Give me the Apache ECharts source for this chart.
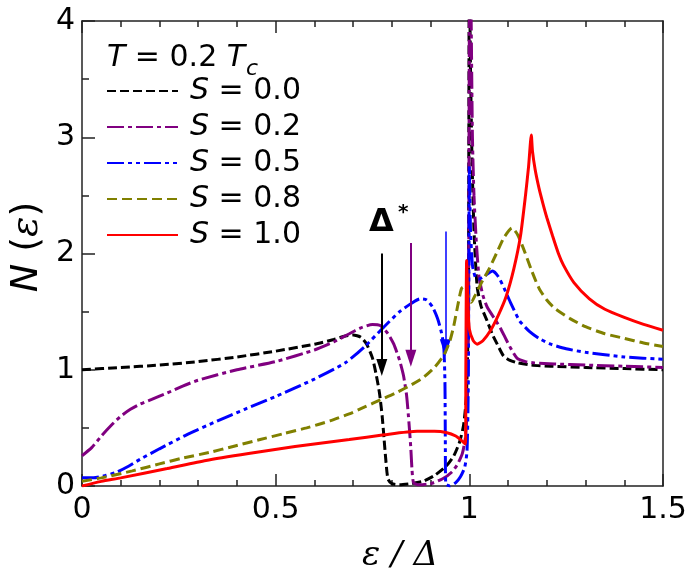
<!DOCTYPE html>
<html>
<head>
<meta charset="utf-8">
<script src="https://cdn.jsdelivr.net/npm/echarts@6/dist/echarts.min.js"></script>
<style>
html,body{margin:0;padding:0;background:#fff;}
#chart{width:691px;height:577px;}
</style>
</head>
<body>
<div id="chart"></div>
<script>
// ---- data ----
var seriesNames = ['S = 0.0', 'S = 0.2', 'S = 0.5', 'S = 0.8', 'S = 1.0'];

var curveS00 = [[0,1.00],[0.1,1.02],[0.2,1.04],[0.3,1.07],[0.4,1.11],[0.5,1.16],[0.6,1.22],[0.65,1.26],[0.68,1.29],[0.7,1.30],[0.72,1.28],[0.735,1.22],[0.75,1.10],[0.76,0.95],[0.768,0.80],[0.775,0.60],[0.78,0.40],[0.785,0.20],[0.79,0.06],[0.8,0.02],[0.82,0.01],[0.85,0.02],[0.88,0.04],[0.91,0.09],[0.94,0.17],[0.96,0.26],[0.975,0.38],[0.985,0.52],[0.992,0.75],[0.996,1.2],[0.998,2.0],[1.0,4.5],[1.003,3.6],[1.007,2.8],[1.012,2.2],[1.02,1.72],[1.03,1.55],[1.046,1.42],[1.06,1.30],[1.072,1.22],[1.088,1.12],[1.105,1.08],[1.124,1.06],[1.16,1.04],[1.21,1.03],[1.3,1.02],[1.4,1.01],[1.5,1.00]];

var curveS02 = [[0,0.26],[0.025,0.33],[0.05,0.43],[0.075,0.52],[0.1,0.6],[0.125,0.66],[0.15,0.705],[0.18,0.745],[0.22,0.8],[0.26,0.86],[0.3,0.91],[0.4,1.0],[0.5,1.07],[0.6,1.17],[0.65,1.24],[0.69,1.31],[0.72,1.36],[0.75,1.39],[0.77,1.38],[0.79,1.31],[0.805,1.22],[0.82,1.08],[0.83,0.95],[0.838,0.78],[0.844,0.55],[0.849,0.32],[0.852,0.14],[0.856,0.03],[0.87,0.01],[0.9,0.02],[0.93,0.06],[0.955,0.12],[0.97,0.19],[0.982,0.28],[0.99,0.42],[0.995,0.7],[0.998,1.5],[1.001,4.5],[1.004,4.2],[1.008,3.0],[1.012,2.5],[1.018,2.1],[1.025,1.8],[1.035,1.64],[1.046,1.54],[1.065,1.44],[1.08,1.36],[1.095,1.26],[1.106,1.19],[1.123,1.10],[1.145,1.07],[1.166,1.06],[1.22,1.05],[1.3,1.04],[1.4,1.03],[1.5,1.02]];

var curveS05 = [[0,0.07],[0.03,0.07],[0.06,0.09],[0.09,0.12],[0.12,0.17],[0.15,0.23],[0.2,0.32],[0.27,0.44],[0.35,0.56],[0.42,0.66],[0.5,0.77],[0.6,0.92],[0.68,1.06],[0.73,1.2],[0.78,1.37],[0.82,1.5],[0.85,1.57],[0.873,1.61],[0.89,1.6],[0.905,1.54],[0.918,1.44],[0.928,1.32],[0.934,1.2],[0.937,0.9],[0.938,0.4],[0.939,0.02],[0.95,0.0],[0.965,0.03],[0.977,0.08],[0.988,0.16],[0.994,0.3],[0.997,0.8],[0.999,2.0],[1.0,2.75],[1.003,2.2],[1.008,1.9],[1.015,1.8],[1.024,1.78],[1.04,1.81],[1.06,1.85],[1.075,1.8],[1.09,1.7],[1.106,1.58],[1.13,1.42],[1.155,1.33],[1.18,1.27],[1.21,1.22],[1.25,1.18],[1.3,1.15],[1.4,1.11],[1.5,1.09]];

var curveS08 = [[0,0.04],[0.05,0.07],[0.13,0.13],[0.2,0.19],[0.26,0.24],[0.33,0.29],[0.39,0.34],[0.46,0.4],[0.52,0.45],[0.58,0.5],[0.64,0.56],[0.69,0.62],[0.73,0.68],[0.77,0.74],[0.81,0.8],[0.85,0.87],[0.88,0.93],[0.91,1.02],[0.935,1.13],[0.95,1.25],[0.96,1.38],[0.97,1.55],[0.98,1.7],[0.99,1.72],[0.998,1.62],[1.005,1.58],[1.015,1.64],[1.03,1.74],[1.05,1.86],[1.07,2.0],[1.09,2.14],[1.11,2.22],[1.125,2.16],[1.14,2.04],[1.16,1.86],[1.18,1.7],[1.2,1.6],[1.22,1.53],[1.26,1.44],[1.3,1.37],[1.35,1.31],[1.4,1.27],[1.45,1.23],[1.5,1.2]];

var curveS10 = [[0,0.0],[0.05,0.04],[0.1,0.07],[0.22,0.15],[0.32,0.22],[0.43,0.28],[0.55,0.34],[0.69,0.4],[0.78,0.44],[0.865,0.47],[0.91,0.47],[0.94,0.46],[0.965,0.43],[0.98,0.39],[0.99,0.36],[0.991,1.0],[0.993,1.94],[0.996,1.6],[1.0,1.35],[1.01,1.25],[1.02,1.22],[1.035,1.25],[1.055,1.34],[1.075,1.47],[1.095,1.63],[1.115,1.87],[1.132,2.15],[1.145,2.5],[1.153,2.75],[1.16,3.02],[1.163,2.88],[1.17,2.72],[1.18,2.56],[1.19,2.43],[1.2,2.31],[1.215,2.15],[1.23,2.0],[1.243,1.9],[1.27,1.75],[1.31,1.61],[1.35,1.52],[1.4,1.45],[1.45,1.39],[1.5,1.34]];

// Δ* arrows (x position, start value, tip value) for S = 0.0, 0.2, 0.5
var arrowX = [0.774, 0.849, 0.938];
var arrowFrom = [2.00, 2.09, 2.19];
var arrowTo = [1.02, 1.10, 1.19];

var xTicks = [0, 0.5, 1, 1.5];
var yTicks = [0, 1, 2, 3, 4];

// ---- styles ----
var colors = ['#000000', '#800080', '#0000ff', '#808000', '#ff0000'];
var dashes = [[9,4], [17,4,4,4], [17,4,4,4,4,4], [10,5], 'solid'];
var arrowWidths = [2, 2, 1.5];
var curves = [curveS00, curveS02, curveS05, curveS08, curveS10];

var chart = echarts.init(document.getElementById('chart'), null, {renderer: 'canvas'});

var series = curves.map(function (d, i) {
  var s = {
    name: seriesNames[i],
    type: 'line',
    data: d,
    symbol: 'none',
    showSymbol: false,
    smooth: 0.2,
    clip: true,
    z: 2 + i,
    lineStyle: {color: colors[i], width: 3, type: dashes[i], cap: 'butt'},
    itemStyle: {color: colors[i]},
    animation: false
  };
  if (i < 3) {
    s.markLine = {
      silent: true,
      animation: false,
      symbol: ['none', 'triangle'],
      symbolSize: [11, 17],
      label: {show: false},
      lineStyle: {color: colors[i], width: arrowWidths[i], type: 'solid'},
      data: [[{coord: [arrowX[i], arrowFrom[i]]}, {coord: [arrowX[i], arrowTo[i]]}]]
    };
  }
  return s;
});

var axisCol = '#222';
var option = {
  backgroundColor: '#fff',
  animation: false,
  textStyle: {fontFamily: 'DejaVu Sans'},
  grid: {left: 82, right: 28, top: 21, bottom: 91, containLabel: false},
  legend: {
    orient: 'vertical',
    left: 101,
    top: 71,
    itemWidth: 71,
    itemHeight: 14,
    itemGap: 6,
    data: seriesNames,
    selectedMode: false,
    itemStyle: {opacity: 0, borderWidth: 0},
    formatter: function (name) {
      var v = name.split('=')[1].trim();
      return '{i|S} = ' + v;
    },
    textStyle: {
      fontFamily: 'DejaVu Sans',
      fontSize: 30,
      color: '#000',
      lineHeight: 30,
      padding: [0, 0, 0, 7],
      rich: {
        i: {fontFamily: 'DejaVu Sans', fontStyle: 'italic', fontSize: 30, lineHeight: 30, color: '#000'}
      }
    }
  },
  xAxis: [{
    type: 'value', min: 0, max: 1.5, interval: 0.5, position: 'bottom',
    axisLine: {show: true, onZero: false, lineStyle: {color: axisCol, width: 1.5}},
    axisTick: {show: true, inside: true, length: 12, lineStyle: {color: axisCol, width: 1.5}},
    minorTick: {show: true, splitNumber: 5, length: 6, lineStyle: {color: axisCol, width: 1.5}},
    splitLine: {show: false},
    axisLabel: {
      margin: 9, color: '#000', fontSize: 30, fontFamily: 'DejaVu Sans',
      formatter: function (v) {
        for (var k = 0; k < xTicks.length; k++) { if (Math.abs(v - xTicks[k]) < 1e-9) return String(xTicks[k]); }
        return '';
      }
    }
  }, {
    type: 'value', min: 0, max: 1.5, interval: 0.5, position: 'top',
    axisLine: {show: true, onZero: false, lineStyle: {color: axisCol, width: 1.5}},
    axisTick: {show: true, inside: true, length: 12, lineStyle: {color: axisCol, width: 1.5}},
    minorTick: {show: true, splitNumber: 5, length: 6, lineStyle: {color: axisCol, width: 1.5}},
    splitLine: {show: false},
    axisLabel: {show: false}
  }],
  yAxis: [{
    type: 'value', min: 0, max: 4, interval: 1, position: 'left',
    axisLine: {show: true, onZero: false, lineStyle: {color: axisCol, width: 1.5}},
    axisTick: {show: true, inside: true, length: 13, lineStyle: {color: axisCol, width: 1.5}},
    minorTick: {show: true, splitNumber: 2, length: 7, lineStyle: {color: axisCol, width: 1.5}},
    splitLine: {show: false},
    axisLabel: {
      margin: 7, color: '#000', fontSize: 30, fontFamily: 'DejaVu Sans',
      formatter: function (v) {
        for (var k = 0; k < yTicks.length; k++) { if (Math.abs(v - yTicks[k]) < 1e-9) return String(yTicks[k]); }
        return '';
      }
    }
  }, {
    type: 'value', min: 0, max: 4, interval: 1, position: 'right',
    axisLine: {show: true, onZero: false, lineStyle: {color: axisCol, width: 1.5}},
    axisTick: {show: false},
    splitLine: {show: false},
    axisLabel: {show: false}
  }],
  series: series,
  graphic: [
    {
      type: 'text', left: 107, top: 43, z: 100,
      style: {
        text: '{i|T} = 0.2 {i|T}',
        font: '30px DejaVu Sans', fill: '#000',
        rich: {i: {font: 'italic 30px DejaVu Sans', fill: '#000'}}
      }
    },
    {
      type: 'text', left: 246, top: 58, z: 100,
      style: {text: 'c', font: 'italic 22px DejaVu Sans', fill: '#000'}
    },
    {
      type: 'text', left: 369, top: 207, z: 100,
      style: {text: 'Δ', font: 'bold 32px DejaVu Sans', fill: '#000'}
    },
    {
      type: 'text', left: 398, top: 203, z: 100,
      style: {text: '*', font: 'bold 20px DejaVu Sans', fill: '#000'}
    },
    {
      type: 'text', x: 27, y: 247, rotation: Math.PI / 2, z: 100,
      style: {
        text: '{n|N} ({e|ε})',
        font: '38px DejaVu Sans', fill: '#000', align: 'center', verticalAlign: 'middle',
        rich: {
          n: {font: 'italic 38px DejaVu Sans', fill: '#000'},
          e: {font: 'italic 38px DejaVu Serif', fill: '#000'}
        }
      }
    },
    {
      type: 'text', x: 400, y: 556, z: 100,
      style: {
        text: 'ε / Δ',
        font: 'italic 34px DejaVu Serif', fill: '#000', align: 'center', verticalAlign: 'middle'
      }
    }
  ]
};
chart.setOption(option);
</script>
</body>
</html>
